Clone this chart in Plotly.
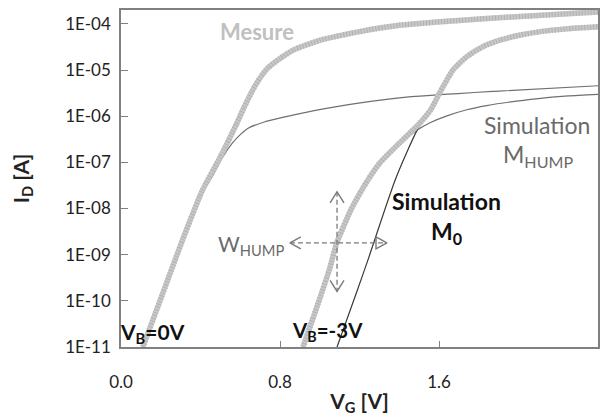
import math
import plotly.graph_objects as go

# ---------------- data ----------------
# VB = 0 V, measurement
meas0_vg = [0.11, 0.21, 0.31, 0.41, 0.50, 0.58, 0.62, 0.66, 0.70, 0.74, 0.80, 0.87,
            1.00, 1.20, 1.40, 1.90, 2.41]
meas0_id = [1.0e-11, 1.45e-10, 2.1e-9, 2.5e-8, 1.32e-7, 6.6e-7, 1.58e-6, 3.5e-6,
            6.8e-6, 1.12e-5, 1.78e-5, 2.75e-5, 4.4e-5, 6.8e-5, 9.3e-5, 1.36e-4, 1.82e-4]
# VB = 0 V, simulation M_HUMP
hump0_vg = [0.11, 0.21, 0.31, 0.40, 0.46, 0.51, 0.56, 0.60, 0.64, 0.725, 0.87, 1.07,
            1.40, 1.90, 2.41]
hump0_id = [1.0e-11, 1.45e-10, 2.1e-9, 1.9e-8, 5.0e-8, 1.26e-7, 2.6e-7, 4.0e-7, 5.5e-7,
            7.6e-7, 1.07e-6, 1.58e-6, 2.5e-6, 3.5e-6, 4.6e-6]
# VB = -3 V, measurement
meas3_vg = [0.916, 1.00, 1.05, 1.085, 1.16, 1.243, 1.303, 1.40, 1.50, 1.56, 1.605,
            1.67, 1.74, 1.82, 1.91, 2.01, 2.11, 2.24, 2.41]
meas3_id = [1.0e-11, 1.12e-10, 5.0e-10, 1.78e-9, 1.0e-8, 4.2e-8, 9.8e-8, 2.6e-7,
            6.8e-7, 1.41e-6, 3.3e-6, 1.0e-5, 1.95e-5, 3.2e-5, 4.5e-5, 5.75e-5,
            6.8e-5, 7.8e-5, 8.7e-5]
# VB = -3 V, simulation M_HUMP
hump3_vg = [0.916, 1.00, 1.05, 1.085, 1.16, 1.243, 1.303, 1.40, 1.45, 1.49, 1.56,
            1.64, 1.74, 1.84, 1.96, 2.10, 2.25, 2.41]
hump3_id = [1.0e-11, 1.12e-10, 5.0e-10, 1.78e-9, 1.0e-8, 4.2e-8, 9.8e-8, 2.6e-7,
            3.7e-7, 5.0e-7, 7.4e-7, 1.02e-6, 1.38e-6, 1.70e-6, 2.04e-6, 2.40e-6,
            2.75e-6, 3.0e-6]
# VB = -3 V, simulation M0
m03_vg = [1.087, 1.19, 1.243, 1.38, 1.49, 1.56, 1.605, 1.67, 1.74, 1.82, 1.91, 2.01,
          2.11, 2.24, 2.41]
m03_id = [1.0e-11, 1.74e-10, 7.8e-10, 4.2e-8, 5.0e-7, 1.41e-6, 3.3e-6, 1.0e-5,
          1.95e-5, 3.2e-5, 4.5e-5, 5.75e-5, 6.8e-5, 7.8e-5, 8.7e-5]

x_ticks = [0.0, 0.8, 1.6, 2.4]
x_ticktext = ["0.0", "0.8", "1.6", "2.4"]
y_ticks = [1e-11, 1e-10, 1e-9, 1e-8, 1e-7, 1e-6, 1e-5, 1e-4]
y_ticktext = ["1E-11", "1E-10", "1E-09", "1E-08", "1E-07", "1E-06", "1E-05", "1E-04"]

# W_HUMP / threshold shift cross (dashed, with open arrow heads)
cross_h_vg = [0.850, 1.338]
cross_h_id = [1.8e-9, 1.8e-9]
cross_v_vg = [1.087, 1.087]
cross_v_id = [2.3e-8, 1.6e-10]

# ---------------- style ----------------
FONT = "Lato"
GRAY_MEAS = "#c8c8c8"
GRAY_MEAS_HATCH = "#b2b2b2"
GRAY_HUMP = "#707070"
DARK_M0 = "#383838"
CROSS = "#7a7a7a"
HEAD_DX = 0.055   # arrow-head depth along V (horizontal arrows)
HEAD_DY = 0.13    # arrow-head half height in decades
HEAD_VX = 0.035   # arrow-head half width along V (vertical arrows)
HEAD_VY = 0.24    # arrow-head depth in decades
L = math.log10

fig = go.Figure()


def thin(x, y, color, name):
    fig.add_trace(go.Scatter(x=x, y=y, mode="lines", name=name, showlegend=False,
                             line=dict(color=color, width=1.2, shape="spline", smoothing=0.6)))


def meas(x, y, name):
    fig.add_trace(go.Scatter(x=x, y=y, mode="lines", name=name, showlegend=False,
                             line=dict(color=GRAY_MEAS, width=5.5, shape="spline",
                                       smoothing=0.5)))
    fig.add_trace(go.Scatter(x=x, y=y, mode="lines", name=name, showlegend=False,
                             hoverinfo="skip",
                             line=dict(color=GRAY_MEAS_HATCH, width=5.5, shape="spline",
                                       smoothing=0.5, dash="1px,2px")))


thin(hump0_vg, hump0_id, GRAY_HUMP, "Simulation M_HUMP (VB=0V)")
thin(hump3_vg, hump3_id, GRAY_HUMP, "Simulation M_HUMP (VB=-3V)")
thin(m03_vg, m03_id, DARK_M0, "Simulation M0 (VB=-3V)")
meas(meas0_vg, meas0_id, "Mesure (VB=0V)")
meas(meas3_vg, meas3_id, "Mesure (VB=-3V)")

# dashed cross
dash_line = dict(color=CROSS, width=1.3, dash="5px,3px")
fig.add_trace(go.Scatter(x=cross_h_vg, y=cross_h_id, mode="lines", line=dash_line,
                         showlegend=False, hoverinfo="skip"))
fig.add_trace(go.Scatter(x=cross_v_vg, y=cross_v_id, mode="lines", line=dash_line,
                         showlegend=False, hoverinfo="skip"))

# arrow heads, built from the cross end points
head_line = dict(color=CROSS, width=1.4)
xl, yl = cross_h_vg[0], L(cross_h_id[0])
fig.add_trace(go.Scatter(x=[xl + HEAD_DX, xl, xl + HEAD_DX],
                         y=[10 ** (yl + HEAD_DY), 10 ** yl, 10 ** (yl - HEAD_DY)],
                         mode="lines", line=head_line, showlegend=False, hoverinfo="skip"))
xr, yr = cross_h_vg[1], L(cross_h_id[1])
fig.add_trace(go.Scatter(x=[xr - HEAD_DX, xr, xr - HEAD_DX, xr - HEAD_DX],
                         y=[10 ** (yr + HEAD_DY), 10 ** yr, 10 ** (yr - HEAD_DY),
                            10 ** (yr + HEAD_DY)],
                         mode="lines", line=head_line, showlegend=False, hoverinfo="skip"))
xu, yu = cross_v_vg[0], L(cross_v_id[0])
fig.add_trace(go.Scatter(x=[xu - HEAD_VX, xu, xu + HEAD_VX],
                         y=[10 ** (yu - HEAD_VY), 10 ** yu, 10 ** (yu - HEAD_VY)],
                         mode="lines", line=head_line, showlegend=False, hoverinfo="skip"))
xd, yd = cross_v_vg[1], L(cross_v_id[1])
fig.add_trace(go.Scatter(x=[xd - HEAD_VX, xd, xd + HEAD_VX],
                         y=[10 ** (yd + HEAD_VY), 10 ** yd, 10 ** (yd + HEAD_VY)],
                         mode="lines", line=head_line, showlegend=False, hoverinfo="skip"))

ann = []


def txt(x, ylog, text, size, color, bold=False):
    ann.append(dict(x=x, y=ylog, xref="x", yref="y",
                    text=("<b>%s</b>" % text) if bold else text,
                    showarrow=False, font=dict(family=FONT, size=size, color=color),
                    xanchor="center", yanchor="middle"))


txt(0.684, -4.17, "Mesure", 22, "#c0c0c0", bold=True)
txt(2.093, -6.19, "Simulation", 23, "#6a6a6a")
txt(2.098, -6.86, "M<sub>HUMP</sub>", 23, "#6a6a6a")
txt(1.640, -7.84, "Simulation", 23, "#111111", bold=True)
txt(1.640, -8.53, "M<sub>0</sub>", 23, "#111111", bold=True)
txt(0.654, -8.79, "W<sub>HUMP</sub>", 21, "#6a6a6a")
txt(0.158, -10.70, "V<sub>B</sub>=0V", 21, "#111111", bold=True)
txt(1.037, -10.67, "V<sub>B</sub>=-3V", 20.5, "#111111", bold=True)

fig.update_layout(
    width=610, height=416, autosize=False,
    margin=dict(l=121, r=12, t=10, b=69, autoexpand=False),
    paper_bgcolor="white", plot_bgcolor="white",
    font=dict(family=FONT, size=17, color="#222222"),
    annotations=ann,
    showlegend=False,
)
fig.update_xaxes(
    range=[0, 2.4], tickvals=x_ticks, ticktext=x_ticktext, automargin=False,
    ticks="inside", ticklen=6, tickwidth=1.2, tickcolor="#808080",
    showline=True, linecolor="#808080", linewidth=1.5, mirror=True,
    showgrid=False, zeroline=False,
    tickfont=dict(family=FONT, size=17, color="#222222"),
    ticklabelstandoff=19,
    title=dict(text="<b>V<sub>G</sub> [V]</b>",
               font=dict(family=FONT, size=21, color="#222222"), standoff=11),
)
fig.update_yaxes(
    type="log", range=[-11, L(2e-4)], tickvals=y_ticks, ticktext=y_ticktext,
    automargin=False,
    ticks="inside", ticklen=7, tickwidth=1.2, tickcolor="#808080",
    showline=True, linecolor="#808080", linewidth=1.5, mirror=True,
    showgrid=False, zeroline=False,
    tickfont=dict(family=FONT, size=17, color="#222222"),
    ticklabelstandoff=5,
    title=dict(text="<b>I<sub>D</sub> [A]</b>",
               font=dict(family=FONT, size=21, color="#222222"), standoff=30),
)

fig.write_html("out.html", config={"displayModeBar": False},
               post_script="document.body.style.margin='0px';")
